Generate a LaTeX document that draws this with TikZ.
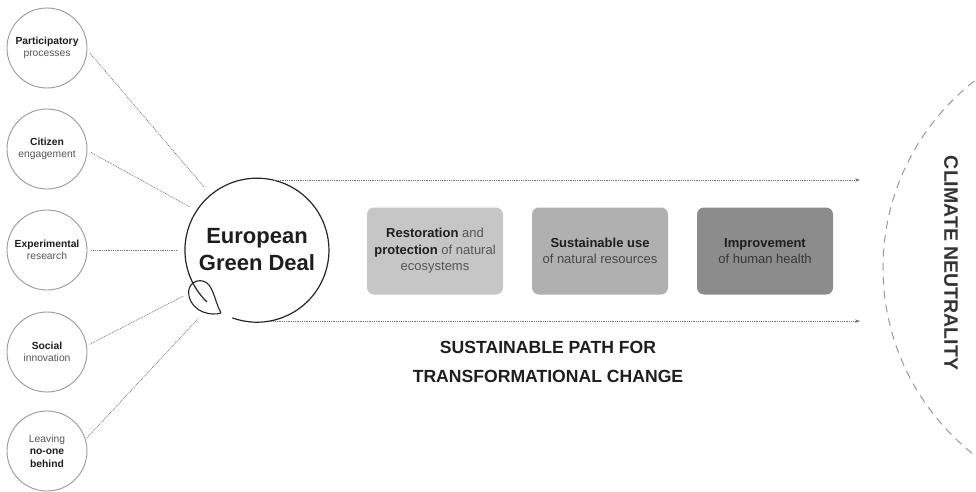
\documentclass[tikz,border=0pt]{standalone}
\usepackage{fontspec}
\setmainfont{Liberation Sans}
\usetikzlibrary{arrows.meta,calc}
\definecolor{txt}{HTML}{1E1E1E}
\definecolor{soft}{HTML}{555555}
\definecolor{ring}{HTML}{9A9A9A}
\definecolor{boxA}{HTML}{C6C6C6}
\definecolor{boxB}{HTML}{B0B0B0}
\definecolor{boxC}{HTML}{8C8C8C}
\tikzset{
  small/.style={circle,draw=ring,line width=0.9pt,minimum size=80pt,inner sep=0pt,align=center,text=txt,font=\fontsize{10.3}{12.5}\selectfont},
  main/.style={circle,draw=none,minimum size=144pt,inner sep=0pt,align=center,text=txt,font=\bfseries\fontsize{22}{27}\selectfont},
  conn/.style={draw=black!55,line width=0.6pt,dash pattern=on 1pt off 0.8pt},
  flow/.style={draw=black!55,line width=0.6pt,dash pattern=on 1pt off 0.8pt,-{Stealth[length=5pt,width=3.5pt]}},
  goal/.style={rounded corners=7pt,minimum width=136pt,minimum height=87pt,inner sep=1pt,align=center,text=txt,font=\fontsize{13}{16.5}\selectfont},
}
\newcommand{\lite}[1]{\textcolor{soft}{#1}}
\begin{document}
\begin{tikzpicture}[x=1pt,y=-1pt]
\useasboundingbox (0,0) rectangle (976,492);
\fill[white] (0,0) rectangle (976,492);
% small circles
\node[small] (c1) at (47,48) {\textbf{Participatory}\\\lite{processes}};
\node[small] (c2) at (47,149) {\textbf{Citizen}\\\lite{engagement}};
\node[small] (c3) at (47,250) {\textbf{Experimental}\\\lite{research}};
\node[small] (c4) at (47,352) {\textbf{Social}\\\lite{innovation}};
\node[small] (c5) at (47,451) {\lite{Leaving}\\\textbf{no-one}\\\textbf{behind}};
% main circle (outline open where the leaf sits)
\node[main] (m) at (257,250) {European\\Green Deal};
\draw[black!85,line width=1.2pt] (m.250) arc[start angle=250,end angle=586,radius=72pt];
% leaf
\draw[black!85,line width=1.1pt,line join=round]
  (221,313) .. controls (212,316) and (193,313) .. (189,296)
  .. controls (186,283) and (199,277) .. (207,283)
  .. controls (214,289) and (215,302) .. (221,313);
% connectors
\draw[conn,shorten <=4pt,shorten >=10pt] (c1.-3) -- (m.130);
\draw[conn,shorten <=4pt,shorten >=8pt] (c2.-2) -- (m.147);
\draw[conn,shorten <=4pt,shorten >=7pt] (c3.east) -- (m.west);
\draw[conn,shorten <=3pt,shorten >=14pt] (c4.9) -- (m.213);
\draw[conn,shorten <=2pt,shorten >=17pt] (c5.17) -- (m.230);
% flow arrows
\coordinate (te) at (860,177);
\coordinate (be) at (860,322);
\draw[flow] (m.76) -- (m.76 -| te);
\draw[flow] (m.-80) -- (m.-80 -| be);
% goal boxes
\node[goal,fill=boxA] (g1) at (435,251) {\textbf{Restoration} \lite{and}\\\textbf{protection} \lite{of natural}\\\lite{ecosystems}};
\node[goal,fill=boxB] (g2) at (600,251) {\textbf{Sustainable use}\\\textcolor{black!72}{of natural resources}};
\node[goal,fill=boxC] (g3) at (765,251) {\textbf{Improvement}\\\textcolor{black!78}{of human health}};
% caption
\node[align=center,text=txt,font=\bfseries\fontsize{17.6}{29}\selectfont] (cap) at (548,362) {SUSTAINABLE PATH FOR\\TRANSFORMATIONAL CHANGE};
% climate neutrality
\begin{scope}
\clip (0,0) rectangle (976,492);
\draw[draw=black!40,line width=1pt,dash pattern=on 8pt off 6pt] (1120,268) circle[radius=237];
\end{scope}
\node[rotate=-90,text=black!80,font=\bfseries\fontsize{19.5}{24}\selectfont] (cn) at (951,263) {CLIMATE NEUTRALITY};
\end{tikzpicture}
\end{document}
